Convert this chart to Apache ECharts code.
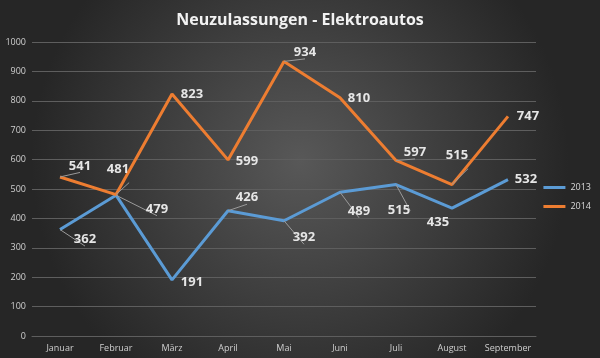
<!DOCTYPE html>
<html><head><meta charset="utf-8">
<script src="https://cdn.jsdelivr.net/npm/echarts@6/dist/echarts.min.js"></script>
<style>html,body{margin:0;padding:0;background:#333}#c{width:600px;height:358px}</style>
</head><body><div id="c"></div>
<script>
const categories = ['Januar','Februar','März','April','Mai','Juni','Juli','August','September'];
const values2013 = [362, 479, 191, 426, 392, 489, 515, 435, 532];
const values2014 = [541, 481, 823, 599, 934, 810, 597, 515, 747];
const yTicks = {min: 0, max: 1000, interval: 100};

// label placement (style only)
const offs2013 = [[25,10],[41,14],[20,2],[19,-13],[20,17],[19,19],[3,26],[-14,14],[18,0]];
const lead2013 = [true,true,false,true,true,true,true,false,false];
const offs2014 = [[20,-11],[2,-25],[20,0],[19,1],[21,-9],[19,0],[19,-8],[5,-29],[20,0]];
const lead2014 = [true,true,false,false,true,false,true,true,false];

function build(vals, offs, lead){
  return vals.map((v,i)=>({value:v, label:{offset:offs[i]}, labelLine:{show:lead[i]}}));
}
const labelStyle = {show:true, position:'inside', color:'#e6e6e6', fontWeight:'bold', fontSize:13, fontFamily:'Open Sans'};
const lineLbl = {show:false, lineStyle:{color:'#9a9a9a', width:1}};

const chart = echarts.init(document.getElementById('c'));
chart.setOption({
  backgroundColor:{type:'radial', x:0.5, y:0.45, r:0.75, colorStops:[{offset:0,color:'#585858'},{offset:1,color:'#262626'}]},
  animation:false,
  title:{text:'Neuzulassungen - Elektroautos', left:'center', top:7, textStyle:{color:'#f2f2f2', fontSize:16, fontWeight:'bold', fontFamily:'Open Sans'}},
  grid:{left:32, right:64, top:42, bottom:22},
  legend:{orient:'vertical', right:4, top:178, itemWidth:22, itemHeight:3, itemGap:10, icon:'rect',
    textStyle:{color:'#d9d9d9', fontSize:9, fontFamily:'Open Sans'}},
  xAxis:{type:'category', data:categories, boundaryGap:true,
    axisLine:{lineStyle:{color:'#5e5e5e'}}, axisTick:{show:false},
    axisLabel:{color:'#cfcfcf', fontSize:9, margin:8, interval:0, fontFamily:'Open Sans'}},
  yAxis:{type:'value', min:yTicks.min, max:yTicks.max, interval:yTicks.interval,
    axisLine:{show:false}, axisTick:{show:false},
    splitLine:{lineStyle:{color:'#5e5e5e'}},
    axisLabel:{color:'#cfcfcf', fontSize:9, margin:6, fontFamily:'Open Sans', formatter:(v)=>String(v)}},
  series:[
    {name:'2013', type:'line', data:build(values2013, offs2013, lead2013), color:'#5b9bd5',
     lineStyle:{width:3, color:'#5b9bd5'}, symbol:'circle', symbolSize:0.1, showSymbol:true,
     label:labelStyle, labelLine:lineLbl},
    {name:'2014', type:'line', data:build(values2014, offs2014, lead2014), color:'#ed7d31',
     lineStyle:{width:3, color:'#ed7d31'}, symbol:'circle', symbolSize:0.1, showSymbol:true,
     label:labelStyle, labelLine:lineLbl}
  ]
});
</script></body></html>
